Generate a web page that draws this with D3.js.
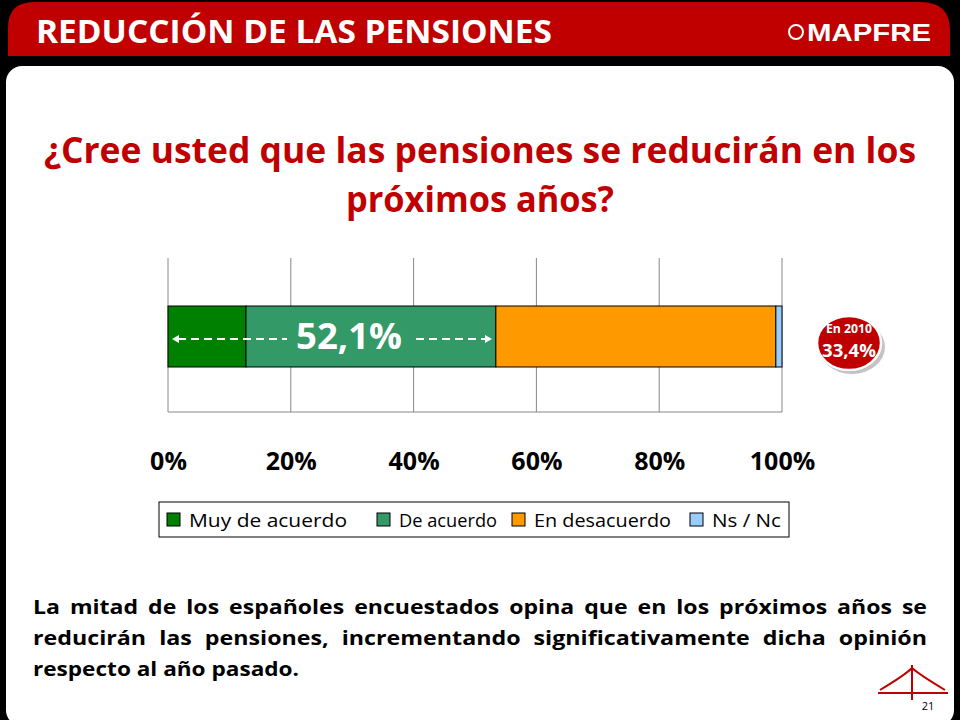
<!DOCTYPE html><html><head><meta charset="utf-8"><script src="https://cdn.jsdelivr.net/npm/d3@7"></script>
<style>body{margin:0;background:#000}svg{display:block;font-family:"Open Sans",Calibri,sans-serif}</style></head><body>
<svg id="c" width="960" height="720"></svg>
<script>
const categories=["Muy de acuerdo","De acuerdo","En desacuerdo","Ns / Nc"];
const values=[12.7,40.7,45.6,1.0];
const colors=["#008000","#339966","#FF9900","#99CCFF"];
const ticks=[0,20,40,60,80,100];
const svg=d3.select("#c");
svg.append("rect").attr("x",0).attr("y",0).attr("width",960).attr("height",720).attr("fill","#000");
svg.append("path").attr("d","M8,56 L8,28 Q8,2 34,2 L920,2 Q950,2 950,30 L950,56 Z").attr("fill","#C00000");
svg.append("rect").attr("x",6).attr("y",66).attr("width",948).attr("height",660).attr("rx",16).attr("fill","#fff");
svg.append("text").attr("x",36).attr("y",43).attr("fill","#fff").attr("font-size",32).attr("font-weight","bold").attr("textLength",516).attr("lengthAdjust","spacingAndGlyphs").text("REDUCCIÓN DE LAS PENSIONES");
svg.append("circle").attr("cx",796).attr("cy",32).attr("r",7).attr("fill","none").attr("stroke","#fff").attr("stroke-width",2);
svg.append("text").attr("x",807).attr("y",41).attr("fill","#fff").attr("font-size",24).attr("font-weight","bold").attr("font-family","Liberation Sans").attr("textLength",124).attr("lengthAdjust","spacingAndGlyphs").text("MAPFRE");
svg.append("text").attr("x",480).attr("y",163).attr("text-anchor","middle").attr("fill","#C00000").attr("font-size",36).attr("font-weight","bold").attr("textLength",872).attr("lengthAdjust","spacingAndGlyphs").text("¿Cree usted que las pensiones se reducirán en los");
svg.append("text").attr("x",480).attr("y",212).attr("text-anchor","middle").attr("fill","#C00000").attr("font-size",36).attr("font-weight","bold").attr("textLength",268).attr("lengthAdjust","spacingAndGlyphs").text("próximos años?");
const x=d3.scaleLinear().domain([0,100]).range([168,782]);
const g=svg.append("g");
g.selectAll("line.g").data(ticks).join("line").attr("x1",d=>x(d)).attr("x2",d=>x(d)).attr("y1",258).attr("y2",412).attr("stroke","#888");
g.append("line").attr("x1",168).attr("x2",782).attr("y1",412).attr("y2",412).attr("stroke","#888");
let cum=0;const segs=values.map((v,i)=>{const s={x0:cum,x1:cum+v,c:colors[i]};cum+=v;return s;});
g.selectAll("rect.b").data(segs).join("rect").attr("x",d=>x(d.x0)).attr("width",d=>x(d.x1)-x(d.x0)).attr("y",306).attr("height",61).attr("fill",d=>d.c).attr("stroke","#000").attr("stroke-width",1);
svg.append("g").attr("transform","translate(0,412)").call(d3.axisBottom(x).tickValues(ticks).tickFormat(d=>d+"%").tickSize(0).tickPadding(40))
 .call(a=>a.select(".domain").remove()).selectAll("text").attr("font-size",25).attr("font-weight","bold").attr("fill","#000").attr("font-family","Open Sans");
svg.append("text").attr("x",349).attr("y",349).attr("text-anchor","middle").attr("fill","#fff").attr("font-size",36).attr("font-weight","bold").attr("textLength",106).attr("lengthAdjust","spacingAndGlyphs").text("52,1%");
const ay=339;
[[178,287],[416,488]].forEach(([a,b])=>svg.append("line").attr("x1",a).attr("x2",b).attr("y1",ay).attr("y2",ay).attr("stroke","#fff").attr("stroke-width",2).attr("stroke-dasharray","8,5"));
svg.append("path").attr("d",`M172,${ay} L179,${ay-4} L179,${ay+4}Z`).attr("fill","#fff");
svg.append("path").attr("d",`M492,${ay} L485,${ay-4} L485,${ay+4}Z`).attr("fill","#fff");
const bx=849;
svg.append("ellipse").attr("cx",bx).attr("cy",343).attr("rx",33).attr("ry",27).attr("fill","#888").attr("opacity",0.5).attr("transform","translate(3,4)");
svg.append("ellipse").attr("cx",bx).attr("cy",343).attr("rx",32).attr("ry",27).attr("fill","#C00000").attr("stroke","#fff").attr("stroke-width",2.5);
svg.append("text").attr("x",bx).attr("y",333).attr("text-anchor","middle").attr("fill","#fff").attr("font-size",12).attr("font-weight","bold").attr("textLength",46).attr("lengthAdjust","spacingAndGlyphs").text("En 2010");
svg.append("text").attr("x",bx).attr("y",357).attr("text-anchor","middle").attr("fill","#fff").attr("font-size",17).attr("font-weight","bold").attr("textLength",54).attr("lengthAdjust","spacingAndGlyphs").text("33,4%");
svg.append("rect").attr("x",159).attr("y",502).attr("width",630).attr("height",35).attr("fill","#fff").attr("stroke","#000");
const lx=[167,377,512,690], lw=[158,98,137,69];
categories.forEach((c,i)=>{svg.append("rect").attr("x",lx[i]).attr("y",513).attr("width",13).attr("height",13).attr("fill",colors[i]).attr("stroke","#000");
svg.append("text").attr("x",lx[i]+22).attr("y",527).attr("font-size",19).attr("fill","#000").attr("textLength",lw[i]).attr("lengthAdjust","spacingAndGlyphs").text(c);});
const lines=[["La mitad de los españoles encuestados opina que en los próximos años se",true],["reducirán las pensiones, incrementando significativamente dicha opinión",true],["respecto al año pasado.",false]];
lines.forEach(([t,j],i)=>{const y=614+i*31;
 if(!j){svg.append("text").attr("x",33).attr("y",y).attr("font-size",20).attr("font-weight","bold").attr("textLength",266).attr("lengthAdjust","spacingAndGlyphs").text(t);return;}
 const words=t.split(" ");
 const ts=words.map(w=>svg.append("text").attr("y",y).attr("font-size",20).attr("font-weight","bold").text(w));
 const raw=ts.map(s=>s.node().getComputedTextLength());
 const gapT=i==0?10:13;
 const sc=(894-gapT*(words.length-1))/d3.sum(raw);
 const ws=raw.map(r=>r*sc);
 const gap=(894-d3.sum(ws))/(words.length-1);let cx=33;
 ts.forEach((s,k)=>{s.attr("x",cx).attr("textLength",ws[k]).attr("lengthAdjust","spacingAndGlyphs");cx+=ws[k]+gap;});});
const lg=svg.append("g").attr("stroke","#C00000").attr("fill","none").attr("stroke-width",2);
lg.append("path").attr("d","M880,690 Q905,675 912,668 Q920,675 945,690");
lg.append("line").attr("x1",912).attr("x2",912).attr("y1",665).attr("y2",700);
lg.append("line").attr("x1",878).attr("x2",948).attr("y1",693).attr("y2",693);
svg.append("text").attr("x",928).attr("y",710).attr("text-anchor","middle").attr("font-size",11).text("21");
</script></body></html>
